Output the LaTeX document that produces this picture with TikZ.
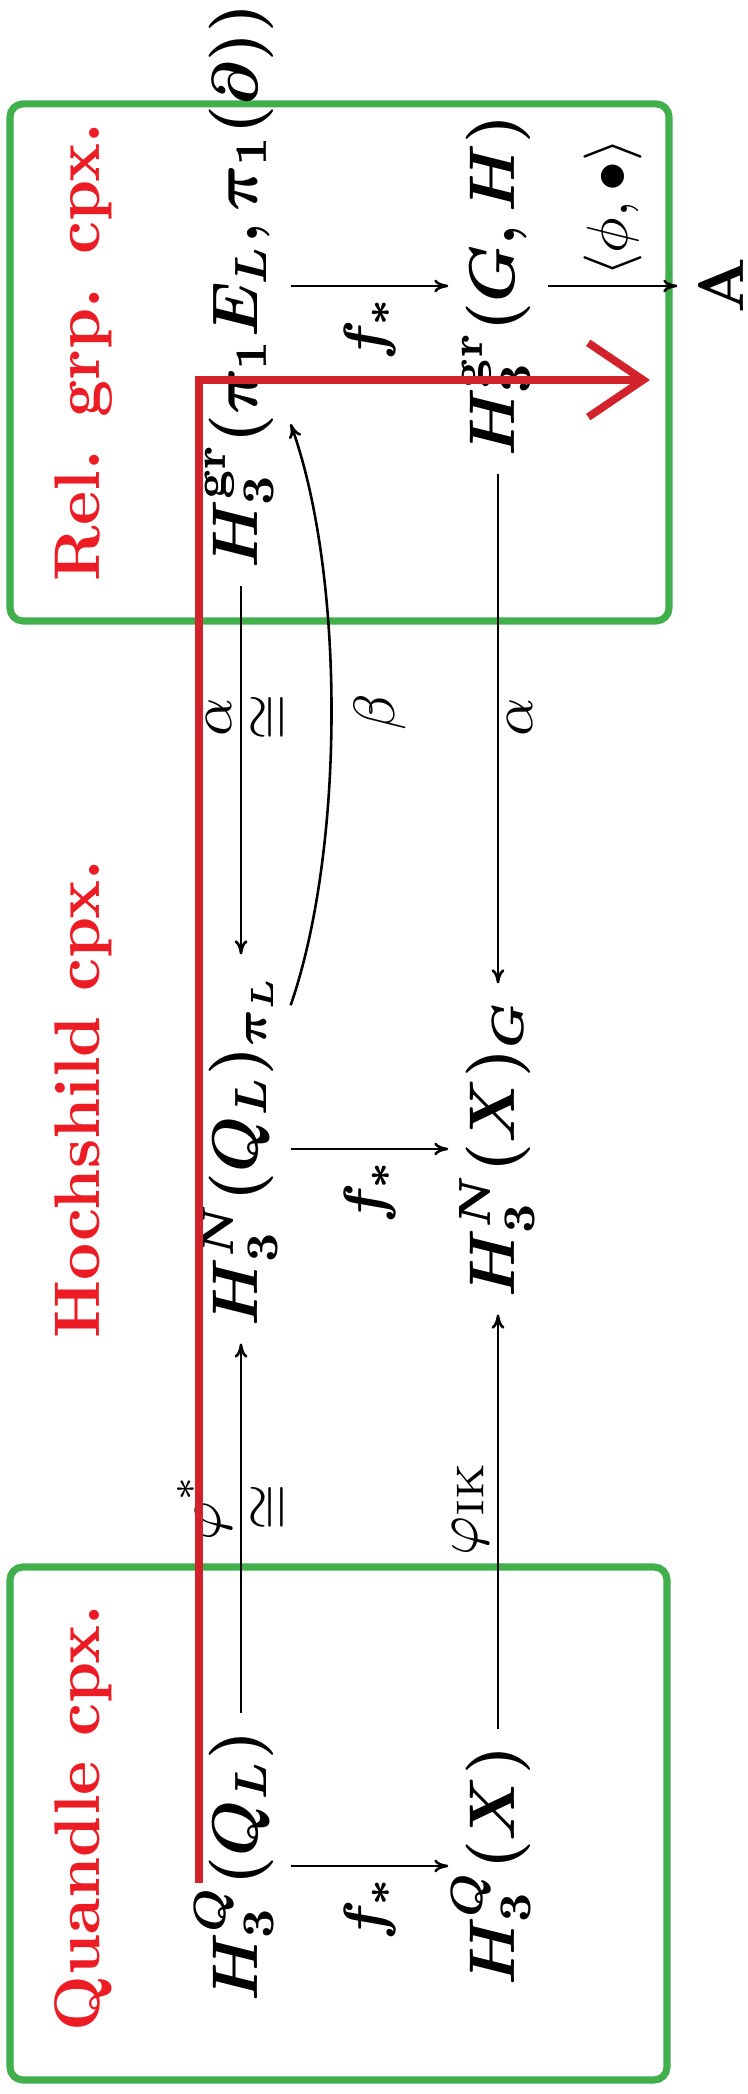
\documentclass[tikz,border=0pt]{standalone}
\usepackage{amsmath}
\usepackage{tikz}
\usetikzlibrary{arrows.meta,positioning}
\definecolor{boxgreen}{HTML}{41AF4B}
\definecolor{routered}{HTML}{D2232D}
\definecolor{titlered}{HTML}{ED1C24}
\tikzset{
  cell/.style={
    inner xsep=2.5pt,
    inner ysep=0pt,
    text height=1em,
    text depth=0.5em,
    font=\boldmath
  },
  lbl/.style={
    inner sep=1.3pt,
    font=\fontsize{9}{11}\selectfont
  },
  boldlbl/.style={lbl, font=\fontsize{9}{11}\selectfont\boldmath},
  map/.style={
    -{Computer Modern Rightarrow[length=2.2pt,width=2pt]},
    line width=0.4pt
  },
  cpxbox/.style={
    draw=boxgreen,
    line width=1.1pt,
    rounded corners=2pt
  },
  cpxtitle/.style={
    anchor=base,
    text=titlered,
    font=\bfseries
  },
  route/.style={
    draw=routered,
    line width=1.2pt,
    -{Straight Barb[length=8.5pt,width=11.5pt]}
  }
}

\begin{document}
\begin{tikzpicture}[x=0.155pt, y=-0.155pt, rotate=90, transform shape]
\useasboundingbox (0,0) rectangle (2094,747);

% ---- Complex boxes ----
\draw[cpxbox] (14,10) rectangle (527,667);
\draw[cpxbox] (1473,10) rectangle (1990,669);

\node[cpxtitle] (quandle) at (276,99) {Quandle cpx.};
\node[cpxtitle] (hochshild) at (995,99) {Hochshild cpx.};
\node[cpxtitle] (relgrp) at (1742,99) {Rel. grp. cpx.};

% ---- Homology groups ----
\node[cell] (q1) at (228,241) {$H_3^Q(Q_L)$};
\node[cell] (q2) at (228,498) {$H_3^Q(X)$};
\node[cell] (n1) at (945,241) {$H_3^N(Q_L)_{\pi_L}$};
\node[cell] (n2) at (945,498) {$H_3^N(X)_G$};
\node[cell] (g1) at (1808,241) {$H_3^{\mathrm{gr}}(\pi_1 E_L, \pi_1(\partial))$};
\node[cell] (g2) at (1808,498) {$H_3^{\mathrm{gr}}(G, H)$};
\node[cell] (a) at (1808,727) {$\mathbf{A}$};

% ---- Maps ----
\draw[map] (q1) -- (n1);
\draw[map] (g1) -- (n1);
\draw[map] (q2) -- (n2);
\draw[map] (g2) -- (n2);
\draw[map] (q1) -- (q2);
\draw[map] (n1) -- (n2);
\draw[map] (g1) -- (g2);
\draw[map] (g2) -- (a);
\draw[map] (n1) .. controls +(301,104) and +(-289,104) .. node[lbl, below=2pt] {$\beta$} (g1);

% labels sit halfway between the cell centres
\path (q1.center) -- node[lbl, above] {$\varphi^*$} node[lbl, below] {$\cong$} (n1.center);
\path (g1.center) -- node[lbl, above] {$\alpha$} node[lbl, below] {$\cong$} (n1.center);
\path (q2.center) -- node[lbl, above] {$\varphi_{\mathrm{IK}}$} (n2.center);
\path (g2.center) -- node[lbl, below] {$\alpha$} (n2.center);
\path (q1.center) -- node[boldlbl, left] {$f_*$} (q2.center);
\path (n1.center) -- node[boldlbl, left] {$f_*$} (n2.center);
\path (g1.center) -- node[boldlbl, left] {$f_*$} (g2.center);
\path (g2.center) -- node[lbl, right] {$\langle \phi, \bullet \rangle$} (a.center);

% ---- Red route ----
\coordinate (routestart) at (211,199);
\coordinate (routeend) at (1714,650);
\draw[route] (routestart) -| (routeend);

\end{tikzpicture}
\end{document}
